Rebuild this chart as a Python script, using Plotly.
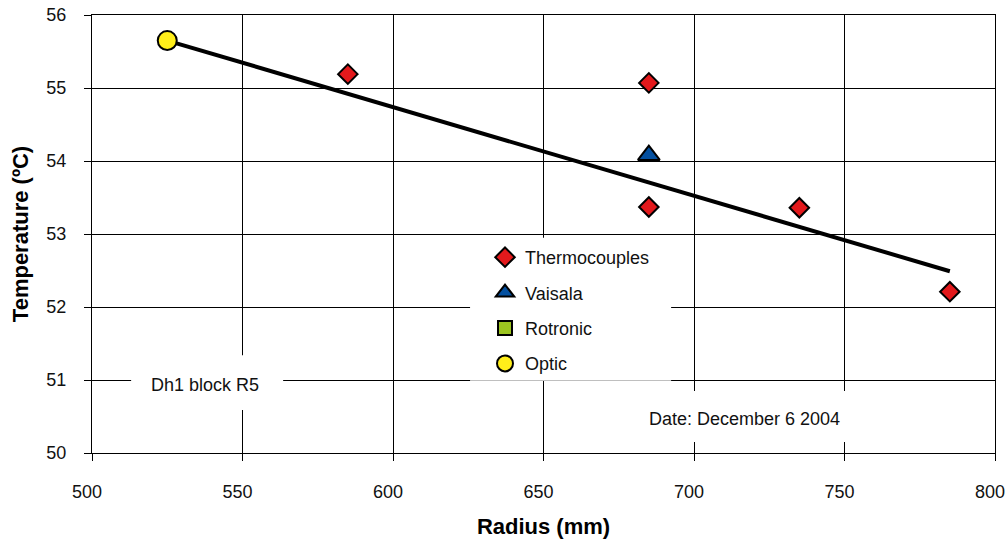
import plotly.graph_objects as go

# Measured temperatures along the radius
thermo_radius = [585, 685, 685, 735, 785]
thermo_temp = [55.19, 55.07, 53.37, 53.36, 52.21]

vaisala_radius = [685]
vaisala_temp = [54.08]

rotronic_radius = [None]
rotronic_temp = [None]

optic_radius = [525]
optic_temp = [55.65]

# Linear trend across the radius
trend_radius = [525, 785]
trend_temp = [55.65, 52.49]

x_ticks = [500, 550, 600, 650, 700, 750, 800]
y_ticks = [50, 51, 52, 53, 54, 55, 56]

FONT = "Liberation Sans, Arial, sans-serif"

fig = go.Figure()

fig.add_trace(go.Scatter(
    x=trend_radius, y=trend_temp, mode="lines",
    line=dict(color="black", width=4), showlegend=False, hoverinfo="skip",
))
fig.add_trace(go.Scatter(
    x=thermo_radius, y=thermo_temp, mode="markers", name="Thermocouples",
    legendgroup="a",
    marker=dict(symbol="diamond", size=15, color="#E3191C",
                line=dict(color="black", width=2)),
))
fig.add_trace(go.Scatter(
    x=vaisala_radius, y=vaisala_temp, mode="markers", name="Vaisala",
    legendgroup="b",
    marker=dict(symbol="triangle-up", size=19, color="#0450A0",
                line=dict(color="black", width=2)),
))
fig.add_trace(go.Scatter(
    x=rotronic_radius, y=rotronic_temp, mode="markers", name="Rotronic",
    legendgroup="c",
    marker=dict(symbol="square", size=14, color="#9CC420",
                line=dict(color="black", width=2)),
))
fig.add_trace(go.Scatter(
    x=optic_radius, y=optic_temp, mode="markers", name="Optic",
    legendgroup="d",
    marker=dict(symbol="circle", size=19, color="#FFEE1A",
                line=dict(color="black", width=2)),
))

# White panels behind the legend and the text notes
for x0, x1, y0, y1 in [(625.6, 692.4, 50.99, 52.95),
                       (513.0, 563.5, 50.59, 51.34),
                       (678.7, 755.0, 50.15, 50.85)]:
    fig.add_shape(type="rect", xref="x", yref="y", x0=x0, x1=x1, y0=y0, y1=y1,
                  fillcolor="white", line=dict(width=0), layer="between")

fig.add_annotation(x=537.5, y=50.93, xref="x", yref="y", text="Dh1 block R5",
                   showarrow=False, font=dict(size=18, color="#111"))
fig.add_annotation(x=716.9, y=50.47, xref="x", yref="y", text="Date: December 6 2004",
                   showarrow=False, font=dict(size=18, color="#111"))

axis_common = dict(
    showgrid=True, gridcolor="black", gridwidth=1,
    showline=True, linecolor="black", linewidth=1, mirror=True,
    ticks="outside", ticklen=7, tickcolor="black", tickwidth=1,
    zeroline=False, tickfont=dict(size=18, color="#111"),
    automargin=False, ticklabeloverflow="allow",
)

fig.update_layout(
    width=1006, height=539,
    margin=dict(l=92, r=11, t=15, b=86),
    paper_bgcolor="white", plot_bgcolor="white",
    font=dict(family=FONT, color="#111"),
    xaxis=dict(range=[500, 800], tickvals=x_ticks, ticklabelstandoff=15,
               ticklabelshift=-5,
               title=dict(text="<b>Radius (mm)</b>", font=dict(size=22, color="black"),
                          standoff=20),
               **axis_common),
    yaxis=dict(range=[50, 56], tickvals=y_ticks, ticklabelstandoff=14,
               title=dict(text="<b>Temperature (ºC)</b>", font=dict(size=22, color="black"),
                          standoff=11),
               **axis_common),
    legend=dict(x=(485 - 92) / 903, y=(453 - 239) / 438, xanchor="left", yanchor="top",
                bgcolor="rgba(0,0,0,0)", borderwidth=0, tracegroupgap=9,
                font=dict(size=18, color="#111")),
)

fig.write_html("out.html")
